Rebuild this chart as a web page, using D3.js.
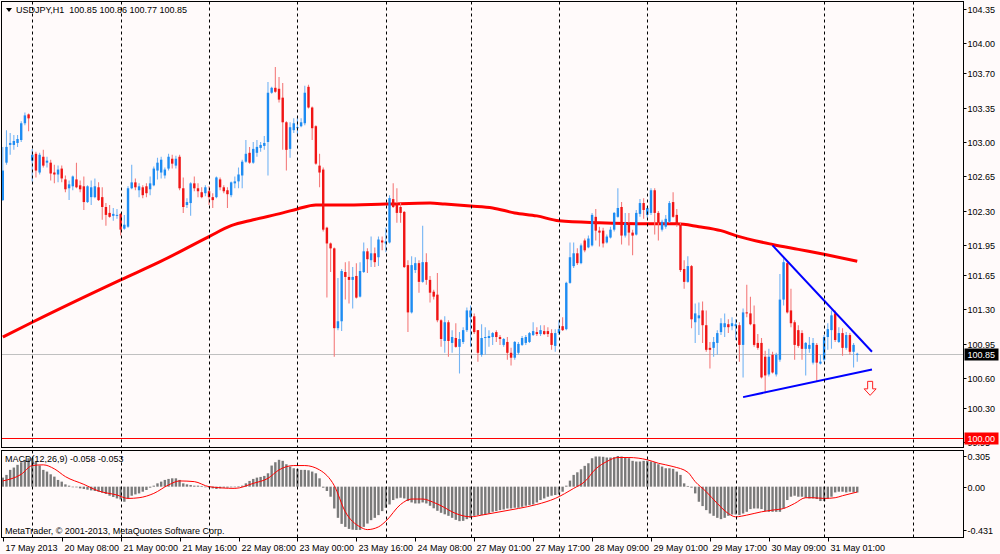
<!DOCTYPE html>
<html>
<head>
<meta charset="utf-8">
<script src="https://cdn.jsdelivr.net/npm/d3@7"></script>
<style>
body { margin: 0; background: #fffafa; }
svg { display: block; font-family: "Liberation Sans", Arial, sans-serif; font-size: 9px; }
</style>
</head>
<body>
<svg width="1000" height="554"></svg>
<script>
// USDJPY H1, 17 May 2013 16:00 .. 31 May 2013 10:00 (bar index 0..232)
var candleOpen = [
  102.41,102.79,102.97,102.97,102.99,103.02,103.19,103.28,102.81,102.88,
  102.69,102.85,102.79,102.79,102.69,102.67,102.73,102.62,102.53,102.55,
  102.62,102.56,102.55,102.39,102.44,102.44,102.54,102.44,102.34,102.28,
  102.25,102.25,102.27,102.12,102.14,102.53,102.59,102.51,102.54,102.55,
  102.52,102.56,102.71,102.69,102.66,102.73,102.83,102.76,102.85,102.53,
  102.36,102.38,102.58,102.53,102.49,102.48,102.50,102.44,102.44,102.62,
  102.54,102.51,102.46,102.58,102.60,102.66,102.80,102.89,102.79,102.89,
  102.94,102.96,103.00,103.50,103.55,103.54,103.45,103.20,102.93,103.12,
  103.14,103.16,103.19,103.56,103.35,103.16,102.76,102.72,102.13,101.97,
  101.92,101.11,101.18,101.68,101.63,101.60,101.64,101.43,101.68,101.89,
  101.80,101.87,101.83,102.00,101.97,101.98,102.42,102.38,102.34,102.29,
  101.75,101.27,101.70,101.77,101.58,101.78,101.60,101.48,101.45,101.19,
  100.98,101.17,100.96,101.01,100.92,100.97,101.09,101.22,101.23,101.09,
  100.84,101.01,101.01,101.02,101.07,101.02,100.94,100.97,100.86,100.81,
  100.86,100.94,100.96,100.97,101.04,101.07,101.05,101.08,101.08,101.06,
  100.93,101.06,101.13,101.10,101.57,101.74,101.87,101.77,102.00,101.93,
  101.95,102.24,102.10,102.10,101.98,102.03,102.11,102.24,102.34,102.05,
  102.18,102.08,102.06,102.27,102.38,102.26,102.28,102.51,102.28,102.11,
  102.14,102.19,102.39,102.26,102.16,101.71,101.58,101.74,101.17,101.21,
  101.29,101.14,100.91,100.91,100.96,101.07,101.12,101.15,101.13,101.13,
  101.14,100.94,101.27,101.26,101.15,100.96,100.96,100.82,100.64,100.84,
  100.64,100.79,101.40,101.77,101.29,101.17,101.09,101.06,100.90,100.90,
  100.76,100.94,100.75,100.79,101.02,101.09,101.26,100.97,101.06,100.91,
  101.04,100.87,100.85
];
var candleHigh = [
  102.95,103.12,103.09,103.07,103.07,103.21,103.30,103.29,102.93,102.90,
  102.89,102.92,102.85,102.82,102.77,102.76,102.76,102.66,102.61,102.66,
  102.79,102.61,102.65,102.56,102.61,102.63,102.59,102.54,102.38,102.36,
  102.33,102.32,102.28,102.26,102.55,102.77,102.63,102.58,102.56,102.58,
  102.65,102.75,102.84,102.85,102.74,102.88,102.87,102.86,102.87,102.64,
  102.43,102.59,102.65,102.58,102.54,102.56,102.55,102.48,102.65,102.64,
  102.56,102.54,102.60,102.65,102.74,102.82,103.02,102.95,103.00,103.02,
  103.00,103.06,103.61,103.56,103.76,103.66,103.60,103.21,103.20,103.24,
  103.25,103.24,103.57,103.58,103.36,103.17,102.88,102.74,102.14,101.98,
  101.93,101.62,101.71,101.78,101.79,101.73,101.77,101.78,101.98,101.92,
  102.04,101.93,102.04,102.04,102.13,102.46,102.58,102.53,102.38,102.30,
  101.80,101.84,101.83,101.80,102.15,101.87,101.64,101.50,101.67,101.20,
  101.23,101.19,101.09,101.16,101.07,101.12,101.32,101.34,101.26,101.09,
  101.15,101.12,101.09,101.07,101.09,101.04,101.01,101.02,100.91,100.98,
  100.97,101.03,101.04,101.07,101.17,101.12,101.14,101.14,101.12,101.10,
  101.10,101.19,101.22,101.58,101.98,101.98,101.92,101.97,102.02,102.05,
  102.28,102.32,102.14,102.13,102.06,102.14,102.29,102.53,102.39,102.28,
  102.28,102.11,102.31,102.42,102.43,102.35,102.53,102.53,102.30,102.21,
  102.26,102.40,102.49,102.32,102.18,101.80,101.84,101.75,101.36,101.37,
  101.38,101.29,100.97,101.02,101.09,101.21,101.26,101.20,101.22,101.20,
  101.17,101.31,101.55,101.43,101.34,101.05,101.01,100.88,100.90,100.87,
  100.86,101.66,101.82,101.79,101.51,101.19,101.14,101.09,100.97,101.02,
  101.01,100.96,100.84,101.04,101.16,101.29,101.29,101.12,101.11,101.07,
  101.06,100.96,100.86
];
var candleLow = [
  102.40,102.77,102.87,102.92,102.95,103.00,103.17,103.11,102.60,102.64,
  102.67,102.74,102.74,102.61,102.58,102.59,102.59,102.49,102.41,102.51,
  102.53,102.49,102.31,102.38,102.36,102.43,102.40,102.21,102.15,102.23,
  102.20,102.22,102.05,102.11,102.13,102.52,102.51,102.44,102.43,102.44,
  102.46,102.55,102.62,102.63,102.63,102.71,102.73,102.73,102.51,102.28,
  102.33,102.25,102.50,102.44,102.43,102.45,102.36,102.33,102.43,102.51,
  102.48,102.33,102.44,102.53,102.53,102.53,102.79,102.78,102.78,102.85,
  102.90,102.92,102.66,103.49,103.50,103.40,102.92,102.71,102.84,103.09,
  103.07,103.15,103.17,103.34,103.02,102.77,102.54,102.09,101.42,101.68,
  100.82,101.09,101.08,101.40,101.36,101.31,101.41,101.42,101.67,101.67,
  101.73,101.73,101.74,101.90,101.88,101.97,102.33,102.18,102.18,101.72,
  101.07,101.26,101.67,101.47,101.57,101.55,101.37,101.40,101.17,100.92,
  100.86,100.82,100.86,100.91,100.65,100.95,101.07,100.92,101.05,100.77,
  100.82,100.84,100.92,100.94,100.97,100.94,100.92,100.79,100.73,100.79,
  100.84,100.93,100.94,100.96,101.03,101.03,101.03,101.04,101.02,100.89,
  100.87,101.04,101.08,101.09,101.56,101.72,101.75,101.76,101.88,101.92,
  101.94,102.00,101.94,101.93,101.97,102.02,102.09,102.23,101.96,102.03,
  101.95,101.85,102.05,102.24,102.22,102.23,102.26,102.06,102.00,102.09,
  102.12,102.18,102.23,102.14,101.68,101.51,101.57,101.11,100.96,101.04,
  100.96,100.87,100.70,100.82,100.84,101.04,101.02,101.06,101.09,100.99,
  100.77,100.61,101.22,101.14,100.92,100.89,100.60,100.45,100.62,100.65,
  100.62,100.77,101.34,101.26,101.12,100.79,100.91,100.79,100.63,100.86,
  100.74,100.57,100.74,100.77,100.89,100.90,100.97,100.96,100.83,100.89,
  100.84,100.71,100.77
];
var candleClose = [
  102.71,102.95,102.99,103.01,103.03,103.19,103.27,103.24,102.87,102.71,
  102.87,102.76,102.81,102.68,102.67,102.72,102.63,102.52,102.57,102.65,
  102.54,102.52,102.39,102.55,102.54,102.55,102.41,102.34,102.26,102.24,
  102.27,102.26,102.11,102.16,102.53,102.59,102.54,102.55,102.46,102.48,
  102.58,102.73,102.79,102.82,102.72,102.85,102.78,102.83,102.53,102.34,
  102.39,102.58,102.53,102.50,102.44,102.54,102.44,102.41,102.64,102.54,
  102.50,102.47,102.59,102.60,102.67,102.80,102.88,102.79,102.93,102.95,
  102.97,102.99,103.50,103.55,103.51,103.43,103.20,102.92,103.15,103.19,
  103.15,103.20,103.50,103.35,103.14,102.78,102.69,102.11,101.97,101.92,
  101.11,101.18,101.69,101.63,101.60,101.63,101.42,101.69,101.89,101.81,
  101.87,101.78,102.01,101.98,101.99,102.43,102.34,102.28,102.28,101.73,
  101.27,101.75,101.77,101.58,101.78,101.60,101.47,101.43,101.19,101.00,
  101.17,100.98,101.02,100.92,101.00,101.09,101.29,101.29,101.07,100.86,
  101.01,101.02,101.03,101.06,101.02,101.00,101.00,100.86,100.81,100.97,
  100.95,101.01,101.02,101.06,101.08,101.05,101.09,101.05,101.05,100.94,
  101.06,101.10,101.09,101.57,101.83,101.87,101.77,101.95,101.90,102.02,
  102.26,102.10,102.08,101.97,102.04,102.11,102.28,102.33,102.05,102.18,
  102.08,102.05,102.28,102.38,102.31,102.33,102.51,102.28,102.18,102.19,
  102.22,102.38,102.24,102.16,101.70,101.58,101.74,101.20,101.26,101.24,
  101.14,100.89,100.89,100.97,101.06,101.16,101.16,101.12,101.16,101.15,
  100.94,101.27,101.26,101.15,100.94,100.91,100.61,100.63,100.82,100.66,
  100.84,101.40,101.78,101.27,101.16,100.94,100.93,100.90,100.96,100.94,
  100.96,100.76,100.77,101.02,101.10,101.24,100.99,101.06,100.91,101.04,
  100.87,100.94,100.85
];

// moving average (read at these bars)
var maBars   = [0, 8, 32, 43, 56, 62, 68, 76, 80, 85, 92, 104, 116, 120, 127, 133, 139, 145, 151, 162, 175, 183, 189, 195, 199, 209, 216, 223, 232];
var maValues = [101.02, 101.17, 101.60, 101.79, 102.04, 102.15, 102.21, 102.28, 102.32, 102.36, 102.36, 102.37, 102.38, 102.37, 102.35, 102.33, 102.28, 102.25, 102.20, 102.18, 102.17, 102.17, 102.14, 102.10, 102.05, 101.96, 101.91, 101.86, 101.79];

// MACD(12,26,9) main (histogram), one per bar
var macdMain = [
  0.09,0.117,0.167,0.19,0.217,0.243,0.267,0.283,0.283,0.25,
  0.21,0.167,0.15,0.123,0.10,0.067,0.05,0.023,0.01,-0.005,
  -0.007,-0.017,-0.023,-0.03,-0.037,-0.043,-0.05,-0.06,-0.073,-0.09,
  -0.103,-0.117,-0.127,-0.15,-0.117,-0.09,-0.077,-0.067,-0.05,-0.033,
  -0.01,0.01,0.033,0.05,0.067,0.077,0.083,0.083,0.067,0.033,
  0.023,0.017,0.01,0.01,0.007,-0.003,-0.01,-0.017,-0.023,-0.017,
  -0.01,-0.01,-0.003,-0.003,0.002,0.01,0.033,0.057,0.077,0.09,
  0.097,0.107,0.133,0.21,0.243,0.267,0.257,0.223,0.20,0.183,
  0.177,0.167,0.167,0.163,0.15,0.133,0.083,-0.01,-0.043,-0.10,
  -0.217,-0.31,-0.37,-0.40,-0.42,-0.428,-0.431,-0.43,-0.40,-0.367,
  -0.333,-0.31,-0.283,-0.243,-0.21,-0.177,-0.133,-0.117,-0.11,-0.117,
  -0.143,-0.157,-0.167,-0.167,-0.157,-0.167,-0.19,-0.215,-0.24,-0.26,
  -0.275,-0.29,-0.31,-0.33,-0.343,-0.34,-0.323,-0.31,-0.29,-0.283,
  -0.283,-0.277,-0.267,-0.25,-0.243,-0.233,-0.227,-0.217,-0.217,-0.21,
  -0.21,-0.20,-0.19,-0.183,-0.177,-0.157,-0.133,-0.117,-0.10,-0.09,
  -0.083,-0.077,-0.05,0.01,0.06,0.117,0.143,0.173,0.207,0.233,
  0.283,0.30,0.30,0.297,0.29,0.29,0.293,0.305,0.30,0.29,
  0.283,0.257,0.25,0.25,0.257,0.257,0.25,0.243,0.223,0.20,
  0.183,0.183,0.177,0.15,0.117,0.033,0.007,-0.01,-0.067,-0.15,
  -0.193,-0.233,-0.267,-0.29,-0.31,-0.323,-0.31,-0.29,-0.277,-0.277,
  -0.283,-0.267,-0.25,-0.223,-0.217,-0.217,-0.223,-0.243,-0.25,-0.25,
  -0.25,-0.25,-0.217,-0.133,-0.10,-0.09,-0.10,-0.10,-0.11,-0.117,
  -0.117,-0.123,-0.143,-0.143,-0.117,-0.10,-0.057,-0.05,-0.05,-0.057,
  -0.05,-0.057,-0.058
];
// signal line (read at these bars)
var signalBars   = [0, 5, 8, 11, 14, 17, 22, 26, 31, 34, 37, 41, 45, 48, 52, 56, 63, 68, 72, 75, 79, 82, 86, 90, 93, 97, 99, 102, 104, 108, 111, 114, 117, 119, 123, 127, 130, 135, 140, 145, 150, 155, 158, 161, 164, 167, 170, 175, 178, 182, 186, 188, 191, 194, 197, 199, 202, 206, 209, 212, 215, 218, 220, 223, 226, 228, 232];
var signalValues = [0.057, 0.123, 0.21, 0.217, 0.177, 0.10, 0.023, -0.043, -0.083, -0.117, -0.11, -0.067, 0.017, 0.057, 0.05, 0.0, -0.017, 0.033, 0.083, 0.167, 0.21, 0.21, 0.167, 0.01, -0.25, -0.40, -0.427, -0.40, -0.343, -0.177, -0.123, -0.123, -0.157, -0.19, -0.267, -0.30, -0.283, -0.25, -0.217, -0.177, -0.117, -0.017, 0.05, 0.177, 0.25, 0.29, 0.29, 0.267, 0.233, 0.20, 0.143, 0.05, -0.05, -0.167, -0.267, -0.30, -0.283, -0.25, -0.233, -0.217, -0.167, -0.11, -0.11, -0.117, -0.11, -0.09, -0.053];

// trend lines drawn on the chart (bar, price)
var trendFromBar = [209, 201];
var trendFromPrice = [101.95, 100.41];
var trendToBar = [236, 236];
var trendToPrice = [100.87, 100.69];

var priceTicks = [104.35, 104.00, 103.70, 103.35, 103.00, 102.65, 102.30, 101.95, 101.65, 101.30, 100.95, 100.60, 100.30, 99.95];
var macdTicks = [0.305, 0.00, -0.431];
var macdTickText = ["0.305", "0.00", "-0.431"];
var daySeparatorBars = [8, 32, 56, 80, 104, 127, 151, 175, 199, 223, 247];
var timeLabelBars = [0, 16, 32, 48, 64, 80, 96, 112, 128, 144, 160, 176, 192, 208, 224];
var timeLabelTexts = ["17 May 2013", "20 May 08:00", "21 May 00:00", "21 May 16:00", "22 May 08:00", "23 May 00:00", "23 May 16:00", "24 May 08:00", "27 May 01:00", "27 May 17:00", "28 May 09:00", "29 May 01:00", "29 May 17:00", "30 May 09:00", "31 May 01:00"];
var bidPrice = 100.85;
var levelPrice = 100.00;
var sellArrowBar = 235.5, sellArrowPrice = 100.57;

var svg = d3.select("svg");
var plotL = 1.5, plotR = 963.5;
var mainT = 1.5, mainB = 447.5, macdT = 450.5, macdB = 537.5;

var x = d3.scaleLinear().domain([0, 247]).range([2.8, 912.5]);
var y = d3.scaleLinear().domain([100, 104.35]).range([437.5, 9]);
var ym = d3.scaleLinear().domain([-0.431, 0.305]).range([530, 456]);

svg.append("rect").attr("width", 1000).attr("height", 554).attr("fill", "#fffafa");

var defs = svg.append("defs");
defs.append("clipPath").attr("id", "clipMain").append("rect")
  .attr("x", plotL).attr("y", mainT).attr("width", plotR - plotL).attr("height", mainB - mainT);
defs.append("clipPath").attr("id", "clipMacd").append("rect")
  .attr("x", plotL).attr("y", macdT).attr("width", plotR - plotL).attr("height", macdB - macdT);

var gMain = svg.append("g").attr("clip-path", "url(#clipMain)");
var gMacd = svg.append("g").attr("clip-path", "url(#clipMacd)");

// day separators
daySeparatorBars.forEach(function(b) {
  var xx = Math.round(x(b)) + 0.5;
  [[mainT, mainB], [macdT, macdB]].forEach(function(r) {
    svg.append("line").attr("x1", xx).attr("x2", xx).attr("y1", r[0]).attr("y2", r[1])
      .attr("stroke", "#000").attr("stroke-width", 1).attr("stroke-dasharray", "3,3");
  });
});

// bid and level lines
gMain.append("line").attr("x1", plotL).attr("x2", plotR)
  .attr("y1", Math.round(y(bidPrice)) + 0.5).attr("y2", Math.round(y(bidPrice)) + 0.5)
  .attr("stroke", "#c0c0c0");
gMain.append("line").attr("x1", plotL).attr("x2", plotR)
  .attr("y1", Math.round(y(levelPrice)) + 0.5).attr("y2", Math.round(y(levelPrice)) + 0.5)
  .attr("stroke", "#ff0000");

// moving average
var maPts = maBars.map(function(b, i) { return [b, maValues[i]]; });
gMain.append("path").datum(maPts)
  .attr("d", d3.line().x(function(d) { return x(d[0]); }).y(function(d) { return y(d[1]); }).curve(d3.curveMonotoneX))
  .attr("fill", "none").attr("stroke", "#ff0000").attr("stroke-width", 3);

// candles
var candles = candleClose.map(function(c, i) {
  return {i: i, o: candleOpen[i], h: candleHigh[i], l: candleLow[i], c: c};
});
var cg = gMain.selectAll(".candle").data(candles).enter().append("g").attr("class", "candle");
cg.append("line")
  .attr("x1", function(d) { return x(d.i); }).attr("x2", function(d) { return x(d.i); })
  .attr("y1", function(d) { return y(d.h); }).attr("y2", function(d) { return y(d.l); })
  .attr("stroke", function(d) { return d.c >= d.o ? "#74b4f4" : "#f47c7c"; })
  .attr("stroke-width", 1.1);
cg.append("rect")
  .attr("x", function(d) { return x(d.i) - 1.2; })
  .attr("width", 2.4)
  .attr("y", function(d) { return y(Math.max(d.o, d.c)); })
  .attr("height", function(d) { return Math.max(1, Math.abs(y(d.o) - y(d.c))); })
  .attr("fill", function(d) { return d.c >= d.o ? "#1e8cf2" : "#f01414"; });

// trend lines
trendFromBar.forEach(function(b, i) {
  gMain.append("line")
    .attr("x1", x(b)).attr("y1", y(trendFromPrice[i]))
    .attr("x2", x(trendToBar[i])).attr("y2", y(trendToPrice[i]))
    .attr("stroke", "#0000ff").attr("stroke-width", 2);
});

// sell arrow
var ax = x(sellArrowBar), ay = y(sellArrowPrice);
gMain.append("path")
  .attr("d", "M" + (ax - 2.5) + "," + ay + "h5v7.5h3.5l-6,6.5l-6,-6.5h3.5z")
  .attr("fill", "#fffafa").attr("stroke", "#ff2020").attr("stroke-width", 1);

// MACD histogram and signal
gMacd.selectAll(".hist").data(macdMain).enter().append("rect").attr("class", "hist")
  .attr("x", function(d, i) { return x(i) - 1.2; })
  .attr("width", 2.4)
  .attr("y", function(d) { return Math.min(ym(0), ym(d)); })
  .attr("height", function(d) { return Math.max(0.6, Math.abs(ym(d) - ym(0))); })
  .attr("fill", "#7a7a7a");
var sigPts = signalBars.map(function(b, i) { return [b, signalValues[i]]; });
gMacd.append("path").datum(sigPts)
  .attr("d", d3.line().x(function(d) { return x(d[0]); }).y(function(d) { return ym(d[1]); }).curve(d3.curveMonotoneX))
  .attr("fill", "none").attr("stroke", "#ff0000").attr("stroke-width", 1);

// panel borders
svg.append("rect").attr("x", plotL).attr("y", mainT).attr("width", plotR - plotL).attr("height", mainB - mainT)
  .attr("fill", "none").attr("stroke", "#000");
svg.append("rect").attr("x", plotL).attr("y", macdT).attr("width", plotR - plotL).attr("height", macdB - macdT)
  .attr("fill", "none").attr("stroke", "#000");

// price axis
var pa = svg.append("g");
priceTicks.forEach(function(p) {
  var yy = Math.round(y(p)) + 0.5;
  pa.append("line").attr("x1", plotR).attr("x2", plotR + 3).attr("y1", yy).attr("y2", yy).attr("stroke", "#000");
  pa.append("text").attr("x", plotR + 4).attr("y", yy).attr("dy", "0.35em").attr("fill", "#000").text(p.toFixed(2));
});
function priceBox(p, bg) {
  var yy = Math.round(y(p)) + 0.5;
  pa.append("rect").attr("x", plotR + 1).attr("y", yy - 6).attr("width", 34).attr("height", 12).attr("fill", bg);
  pa.append("text").attr("x", plotR + 4).attr("y", yy).attr("dy", "0.35em").attr("fill", "#fff").text(p.toFixed(2));
}
priceBox(bidPrice, "#000");
priceBox(levelPrice, "#ff0000");

macdTicks.forEach(function(v, i) {
  var yy = Math.round(ym(v)) + 0.5;
  pa.append("line").attr("x1", plotR).attr("x2", plotR + 3).attr("y1", yy).attr("y2", yy).attr("stroke", "#000");
  pa.append("text").attr("x", plotR + 4).attr("y", yy).attr("dy", "0.35em").attr("fill", "#000").text(macdTickText[i]);
});

// time axis
timeLabelBars.forEach(function(b, i) {
  var xx = Math.round(x(b)) + 0.5;
  svg.append("line").attr("x1", xx).attr("x2", xx).attr("y1", macdB).attr("y2", macdB + 4).attr("stroke", "#000");
  svg.append("text").attr("x", xx + 2).attr("y", 551).attr("fill", "#000").text(timeLabelTexts[i]);
});

// titles
svg.append("path").attr("d", "M6,8h6l-3,4z").attr("fill", "#000");
svg.append("text").attr("x", 16).attr("y", 13).attr("fill", "#000")
  .attr("xml:space", "preserve").text("USDJPY,H1  100.85 100.86 100.77 100.85");
svg.append("text").attr("x", 5).attr("y", 462).attr("fill", "#000")
  .text("MACD(12,26,9) -0.058 -0.053");
svg.append("text").attr("x", 5).attr("y", 534).attr("fill", "#000")
  .text("MetaTrader, \u00a9 2001-2013, MetaQuotes Software Corp.");
</script>
</body>
</html>
